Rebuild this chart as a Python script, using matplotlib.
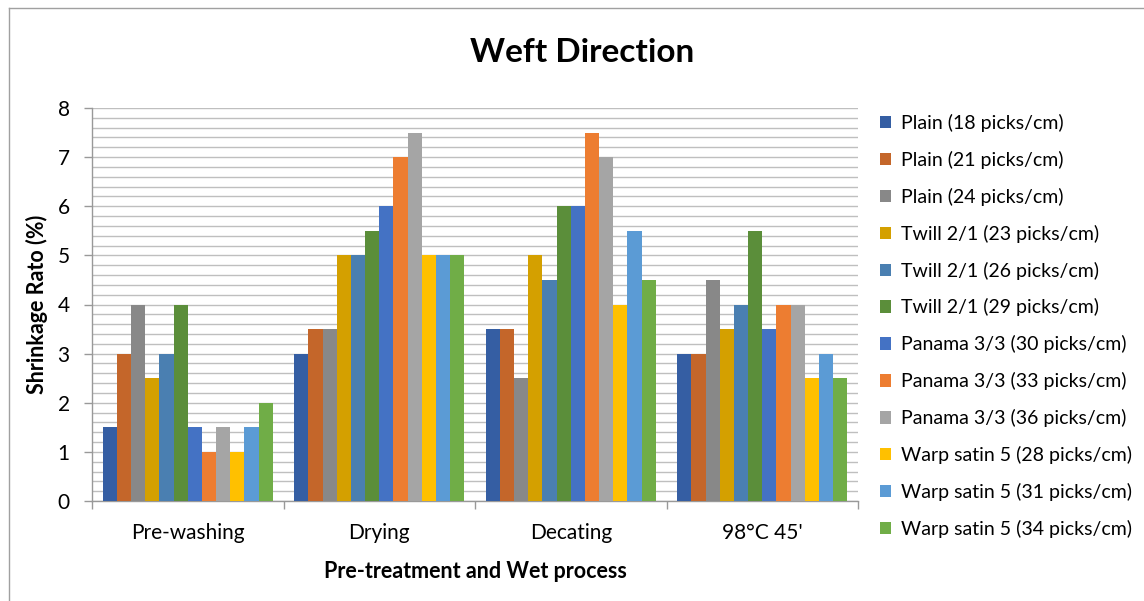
import matplotlib
matplotlib.use("Agg")
import matplotlib.pyplot as plt
import numpy as np
from matplotlib.patches import Patch
from matplotlib.lines import Line2D

plt.rcParams['font.family'] = ['Lato', 'DejaVu Sans']

categories = ["Pre-washing", "Drying", "Decating", "98°C 45'"]
series_names = [
    "Plain (18 picks/cm)", "Plain (21 picks/cm)", "Plain (24 picks/cm)",
    "Twill 2/1 (23 picks/cm)", "Twill 2/1 (26 picks/cm)", "Twill 2/1 (29 picks/cm)",
    "Panama 3/3 (30 picks/cm)", "Panama 3/3 (33 picks/cm)", "Panama 3/3 (36 picks/cm)",
    "Warp satin 5 (28 picks/cm)", "Warp satin 5 (31 picks/cm)", "Warp satin 5 (34 picks/cm)",
]
plain_18 = [1.5, 3.0, 3.5, 3.0]
plain_21 = [3.0, 3.5, 3.5, 3.0]
plain_24 = [4.0, 3.5, 2.5, 4.5]
twill_23 = [2.5, 5.0, 5.0, 3.5]
twill_26 = [3.0, 5.0, 4.5, 4.0]
twill_29 = [4.0, 5.5, 6.0, 5.5]
panama_30 = [1.5, 6.0, 6.0, 3.5]
panama_33 = [1.0, 7.0, 7.5, 4.0]
panama_36 = [1.5, 7.5, 7.0, 4.0]
satin_28 = [1.0, 5.0, 4.0, 2.5]
satin_31 = [1.5, 5.0, 5.5, 3.0]
satin_34 = [2.0, 5.0, 4.5, 2.5]
series_values = [plain_18, plain_21, plain_24, twill_23, twill_26, twill_29,
                 panama_30, panama_33, panama_36, satin_28, satin_31, satin_34]
colors = ["#355EA3", "#C4662A", "#888888", "#D4A000", "#4A7FB1", "#5B8E3A",
          "#4472C4", "#ED7D31", "#A5A5A5", "#FFC000", "#5B9BD5", "#70AD47"]
yticks = [0, 1, 2, 3, 4, 5, 6, 7, 8]

W, H = 1144, 601
fig = plt.figure(figsize=(W / 100, H / 100), dpi=100)
ax = fig.add_axes([92 / W, 1 - 501 / H, (858 - 92) / W, (501 - 108) / H])

n = len(series_values)
group_w = 1.0
bar_w = group_w / (n + 1.5)
x = np.arange(len(categories))
for i, (vals, col, name) in enumerate(zip(series_values, colors, series_names)):
    offs = (i - (n - 1) / 2) * bar_w
    ax.bar(x + offs, vals, width=bar_w, color=col, label=name, zorder=3,
           edgecolor='none', linewidth=0)

ax.set_xlim(-0.5, len(categories) - 0.5)
ax.set_ylim(0, 8)
ax.set_yticks(yticks)
ax.set_yticklabels([str(v) for v in yticks], fontsize=15)
ax.set_yticks(np.arange(0, 8.01, 0.2), minor=True)
ax.grid(True, axis='y', which='both', color='#BFBFBF', linewidth=1.0, zorder=0)
ax.set_axisbelow(True)

ax.set_xticks(x)
ax.set_xticklabels(categories, fontsize=15)
ax.tick_params(axis='x', which='major', length=0, pad=16)
ax.set_xticks(np.arange(-0.5, len(categories), 1.0), minor=True)
ax.tick_params(axis='x', which='minor', length=6, color='#999999', width=1)
ax.tick_params(axis='y', which='major', length=6, color='#999999', width=1, pad=10)
ax.tick_params(axis='y', which='minor', length=0)

for s in ['top', 'right']:
    ax.spines[s].set_visible(False)
for s in ['left', 'bottom']:
    ax.spines[s].set_color('#999999')
    ax.spines[s].set_linewidth(1)

ax.set_ylabel("Shrinkage Rato (%)", fontsize=15.5, fontweight='bold', labelpad=7)
ax.set_xlabel("Pre-treatment and Wet process", fontsize=15.5, fontweight='bold', labelpad=13)

fig.text(582 / W, 1 - 52 / H, "Weft Direction", fontsize=24, fontweight='bold',
         ha='center', va='center')

handles = [Patch(facecolor=c, edgecolor='none') for c in colors]
leg = fig.legend(handles, series_names, loc='upper left',
                 bbox_to_anchor=(872 / W, 1 - 106 / H), frameon=False,
                 fontsize=14, handlelength=0.6, handleheight=0.6,
                 handletextpad=0.5, labelspacing=0.97, borderaxespad=0)

# outer chart border (left and top visible)
fig.add_artist(Line2D([8.5 / W, 8.5 / W], [0, 1 - 7.5 / H], transform=fig.transFigure,
                      color='#A0A0A0', linewidth=1))
fig.add_artist(Line2D([8.5 / W, 1], [1 - 7.5 / H, 1 - 7.5 / H], transform=fig.transFigure,
                      color='#A0A0A0', linewidth=1))

fig.savefig("out.png", dpi=100)
